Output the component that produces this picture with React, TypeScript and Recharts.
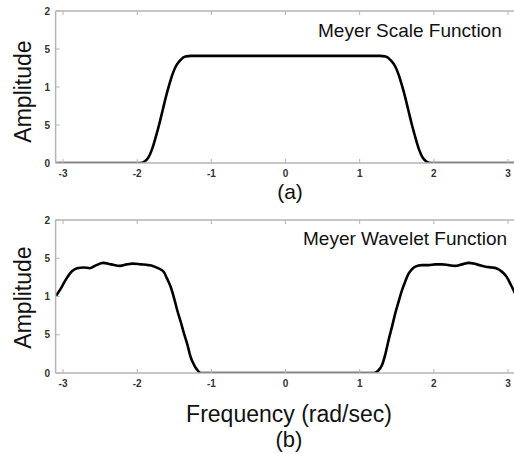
import React from "react";
import { LineChart, Line, XAxis, YAxis } from "recharts";

const xTicks = [-3, -2, -1, 0, 1, 2, 3];
const xTickLabels = ["-3", "-2", "-1", "0", "1", "2", "3"];
const yTicks = [0, 0.5, 1, 1.5, 2];
const yTickLabels = ["0", "5", "1", "5", "2"];

const scaleX = [-3.1, -2.5, -2.0, -1.96, -1.9, -1.85, -1.8, -1.75, -1.7, -1.65, -1.61, -1.57, -1.53, -1.48, -1.42, -1.35, -1.27, 0, 1.27, 1.35, 1.42, 1.48, 1.53, 1.57, 1.61, 1.65, 1.7, 1.75, 1.8, 1.85, 1.9, 1.96, 2.0, 2.5, 3.1];
const scaleY = [0, 0, 0, 0, 0.02, 0.07, 0.18, 0.34, 0.52, 0.72, 0.88, 1.02, 1.15, 1.27, 1.35, 1.4, 1.41, 1.41, 1.41, 1.4, 1.35, 1.27, 1.15, 1.02, 0.88, 0.72, 0.52, 0.34, 0.18, 0.07, 0.02, 0, 0, 0, 0];

const waveX = [-3.1, -3.02, -2.95, -2.88, -2.81, -2.72, -2.64, -2.55, -2.46, -2.35, -2.23, -2.14, -2.06, -1.95, -1.85, -1.79, -1.72, -1.64, -1.6, -1.55, -1.5, -1.46, -1.41, -1.37, -1.32, -1.28, -1.23, -1.19, -1.14, 0, 1.19, 1.25, 1.3, 1.35, 1.39, 1.44, 1.48, 1.53, 1.57, 1.62, 1.66, 1.7, 1.75, 1.84, 1.93, 2.02, 2.11, 2.2, 2.29, 2.38, 2.47, 2.58, 2.7, 2.78, 2.84, 2.91, 2.98, 3.04, 3.1];
const waveY = [1.0, 1.12, 1.24, 1.33, 1.37, 1.38, 1.37, 1.41, 1.44, 1.42, 1.4, 1.42, 1.43, 1.42, 1.41, 1.4, 1.37, 1.32, 1.24, 1.13, 0.97, 0.82, 0.66, 0.52, 0.36, 0.21, 0.1, 0.04, 0, 0, 0, 0.03, 0.1, 0.26, 0.43, 0.62, 0.78, 0.95, 1.08, 1.21, 1.3, 1.35, 1.39, 1.41, 1.41, 1.42, 1.42, 1.41, 1.4, 1.42, 1.44, 1.42, 1.39, 1.38, 1.37, 1.33, 1.26, 1.15, 1.03];

const scaleData = scaleX.map((x, i) => ({ x, y: scaleY[i] }));
const waveData = waveX.map((x, i) => ({ x, y: waveY[i] }));

const FONT = "'Liberation Sans', Arial, sans-serif";
const BOX = "#b4b4b4";
const TICK_IN = 4;

const YTick = (props: any) => {
  const { x, y, payload, index } = props;
  const axisX = x + 5.5;
  return (
    <g>
      <line x1={axisX} x2={axisX + TICK_IN} y1={y} y2={y} stroke={BOX} strokeWidth={1} />
      <text x={x} y={y} dy="0.35em" textAnchor="end" fontSize={10} fill="#333" fontFamily={FONT} fontWeight="bold">
        {yTickLabels[yTicks.indexOf(payload.value)] ?? yTickLabels[index]}
      </text>
    </g>
  );
};

const XTick = (props: any) => {
  const { x, y, payload, index } = props;
  const axisY = y - 7;
  return (
    <g>
      <line x1={x} x2={x} y1={axisY} y2={axisY - TICK_IN} stroke={BOX} strokeWidth={1} />
      <text x={x} y={y} dy="0.71em" textAnchor="middle" fontSize={10} fill="#333" fontFamily={FONT} fontWeight="bold">
        {xTickLabels[xTicks.indexOf(payload.value)] ?? xTickLabels[index]}
      </text>
    </g>
  );
};

const TopTick = (props: any) => {
  const { x, y } = props;
  return <line x1={x} x2={x} y1={y} y2={y + TICK_IN} stroke={BOX} strokeWidth={1} />;
};

const Panel = ({ data, height }: { data: { x: number; y: number }[]; height: number }) => (
  <LineChart width={530} height={height} data={data} margin={{ top: 6, right: 14.6, bottom: 0, left: 0 }}>
    <XAxis
      xAxisId="t"
      orientation="top"
      type="number"
      dataKey="x"
      domain={[-3.1, 3.1]}
      ticks={xTicks}
      height={5}
      tickSize={0}
      tickMargin={0}
      tick={<TopTick />}
      axisLine={{ stroke: BOX, strokeWidth: 1.5 }}
      tickLine={false}
      allowDataOverflow
    />
    <XAxis
      type="number"
      dataKey="x"
      domain={[-3.1, 3.1]}
      ticks={xTicks}
      height={37}
      tickSize={0}
      tickMargin={7}
      tick={<XTick />}
      axisLine={{ stroke: BOX, strokeWidth: 1.5 }}
      tickLine={false}
      allowDataOverflow
      interval={0}
    />
    <YAxis
      type="number"
      domain={[0, 2]}
      ticks={yTicks}
      width={55.6}
      tickSize={0}
      tickMargin={5.5}
      tick={<YTick />}
      axisLine={{ stroke: BOX, strokeWidth: 1.5 }}
      tickLine={false}
      allowDataOverflow
      interval={0}
    />
    <Line
      type="monotone"
      dataKey="y"
      stroke="#000"
      strokeWidth={2.6}
      dot={false}
      isAnimationActive={false}
    />
  </LineChart>
);

export default function App() {
  return (
    <div
      style={{
        position: "absolute",
        left: 0,
        top: 0,
        width: 514,
        height: 454,
        overflow: "hidden",
        background: "#fff",
      }}
    >
      <div style={{ position: "absolute", left: 0, top: 0 }}>
        <Panel data={scaleData} height={200} />
      </div>
      <div style={{ position: "absolute", left: 0, top: 209 }}>
        <Panel data={waveData} height={201} />
      </div>
      <svg
        width={514}
        height={454}
        style={{ position: "absolute", left: 0, top: 0, pointerEvents: "none" }}
        fontFamily={FONT}
      >
        <text x={318} y={37} fontSize={19} fill="#111">Meyer Scale Function</text>
        <text x={303} y={245} fontSize={19} fill="#111">Meyer Wavelet Function</text>
        <text x={290} y={199} fontSize={21} textAnchor="middle" fill="#111">(a)</text>
        <text x={289} y={422} fontSize={23} textAnchor="middle" fill="#111">Frequency (rad/sec)</text>
        <text x={289} y={447} fontSize={22} textAnchor="middle" fill="#111">(b)</text>
        <text x={31} y={91.5} fontSize={23} textAnchor="middle" fill="#111" transform="rotate(-90 31 91.5)">Amplitude</text>
        <text x={31} y={297.5} fontSize={23} textAnchor="middle" fill="#111" transform="rotate(-90 31 297.5)">Amplitude</text>
      </svg>
    </div>
  );
}
